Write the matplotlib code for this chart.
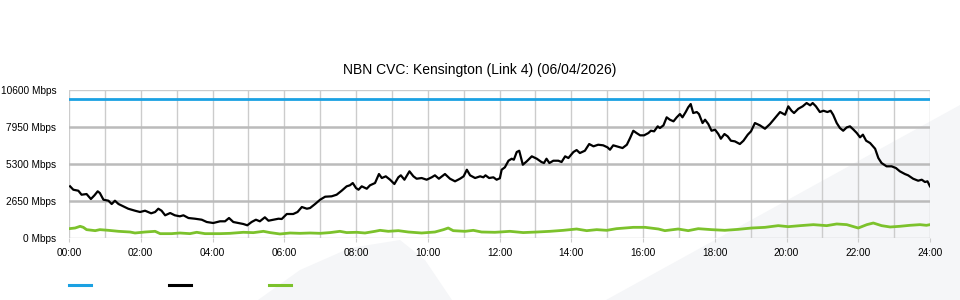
import numpy as np
import matplotlib
matplotlib.use("Agg")
import matplotlib.pyplot as plt
from matplotlib.patches import Polygon
from matplotlib.lines import Line2D

plt.rcParams['font.family'] = ['Liberation Sans', 'DejaVu Sans']

# data (hours of day, Mbps)
cvc_hours = [0.03, 0.12, 0.26, 0.35, 0.49, 0.61, 0.71, 0.80, 0.86, 0.96, 1.10, 1.19, 1.28, 1.38,
             1.51, 1.65, 1.84, 1.98, 2.12, 2.29, 2.40, 2.49, 2.58, 2.68, 2.82, 2.95, 3.09, 3.19,
             3.33, 3.51, 3.70, 3.84, 4.02, 4.21, 4.35, 4.46, 4.58, 4.72, 4.86, 4.97, 5.09, 5.21,
             5.32, 5.46, 5.56, 5.70, 5.84, 5.93, 6.07, 6.25, 6.37, 6.49, 6.63, 6.72, 6.86, 7.00,
             7.14, 7.32, 7.46, 7.60, 7.74, 7.83, 7.91, 8.00, 8.07, 8.16, 8.30, 8.39, 8.53, 8.64,
             8.72, 8.83, 8.95, 9.07, 9.18, 9.25, 9.35, 9.49, 9.60, 9.69, 9.83, 9.97, 10.11, 10.20,
             10.31, 10.48, 10.62, 10.76, 10.90, 11.00, 11.09, 11.18, 11.32, 11.46, 11.55, 11.61,
             11.71, 11.83, 11.92, 12.01, 12.06, 12.15, 12.25, 12.34, 12.40, 12.48, 12.55, 12.65,
             12.76, 12.90, 13.04, 13.17, 13.24, 13.31, 13.39, 13.50, 13.64, 13.73, 13.83, 13.92,
             14.06, 14.15, 14.24, 14.38, 14.50, 14.62, 14.75, 14.89, 15.01, 15.08, 15.17, 15.31,
             15.43, 15.55, 15.64, 15.73, 15.82, 15.92, 16.03, 16.15, 16.22, 16.31, 16.41, 16.47,
             16.57, 16.66, 16.75, 16.85, 16.94, 17.03, 17.10, 17.19, 17.26, 17.33, 17.40, 17.50,
             17.56, 17.66, 17.73, 17.82, 17.91, 18.01, 18.10, 18.17, 18.27, 18.36, 18.45, 18.56,
             18.70, 18.80, 18.92, 19.01, 19.12, 19.26, 19.40, 19.54, 19.68, 19.82, 19.96, 20.05,
             20.14, 20.21, 20.33, 20.45, 20.56, 20.66, 20.73, 20.82, 20.93, 21.03, 21.14, 21.23,
             21.30, 21.40, 21.49, 21.58, 21.68, 21.77, 21.87, 21.96, 22.05, 22.13, 22.22, 22.33,
             22.47, 22.56, 22.65, 22.79, 22.93, 23.05, 23.16, 23.30, 23.39, 23.53, 23.67, 23.77,
             23.86, 23.93, 24.00]
cvc_mbps = [3723, 3480, 3408, 3122, 3170, 2813, 3079, 3365, 3243, 2764, 2692, 2456, 2692, 2456,
            2291, 2119, 1976, 1883, 1976, 1790, 1883, 2119, 1976, 1647, 1811, 1647, 1575, 1647,
            1453, 1403, 1332, 1167, 1095, 1217, 1217, 1453, 1167, 1095, 1024, 931, 1167, 1332,
            1217, 1504, 1260, 1332, 1403, 1382, 1740, 1740, 1883, 2241, 2119, 2169, 2456, 2764,
            2979, 3007, 3122, 3408, 3723, 3795, 3959, 3601, 3480, 3723, 3551, 3795, 3959, 4604,
            4317, 4439, 4196, 3888, 4368, 4511, 4196, 4797, 4439, 4267, 4317, 4196, 4368, 4511,
            4267, 4604, 4267, 4081, 4267, 4439, 4912, 4511, 4317, 4439, 4368, 4511,
            4317, 4368, 4196, 4300, 4912, 5084, 5556, 5699, 5628, 6179, 6272, 5270,
            5513, 5871, 5699, 5463, 5391, 5699, 5391, 5556, 5556, 5463, 5871, 5749,
            6179, 6322, 6107, 6272, 6752, 6587, 6702, 6659, 6515, 6344, 6659, 6558,
            6465, 6702, 7181, 7704, 7539, 7375, 7375, 7539, 7704, 7661, 8019, 7897,
            8088, 8664, 8494, 8377, 8664, 8900, 8664, 9043, 9380, 9616, 8972, 9043,
            8900, 8255, 8494, 8184, 7704, 7776, 7468, 7131, 7468, 7303, 6988, 6945,
            6752, 6988, 7421, 7661, 8255, 8088, 7847, 8184, 8613, 9043, 8850, 9451,
            9136, 8972, 9280, 9451, 9688, 9523, 9688, 9451, 9043, 9136, 9043, 9136,
            8850, 8255, 7897, 7704, 7945, 8019, 7776, 7539, 7232, 7421, 6988, 6824,
            6415, 5749, 5391, 5155, 5155, 5033, 4797, 4604, 4511, 4267, 4124, 4196,
            4031, 4081, 3723]

other_hours = [0.00, 0.17, 0.31, 0.40, 0.49, 0.73, 0.86, 1.10, 1.38, 1.70, 1.84, 2.12, 2.40, 2.54,
               2.86, 3.09, 3.37, 3.56, 3.79, 4.02, 4.21, 4.49, 4.86, 5.14, 5.42, 5.60, 5.88, 6.16,
               6.44, 6.72, 7.00, 7.28, 7.55, 7.74, 8.02, 8.25, 8.53, 8.67, 8.90, 9.18, 9.46, 9.83,
               10.20, 10.44, 10.57, 10.71, 11.04, 11.27, 11.50, 11.87, 12.01, 12.29, 12.66, 13.04,
               13.41, 13.78, 14.15, 14.43, 14.71, 14.99, 15.26, 15.73, 16.06, 16.43, 16.61, 16.98,
               17.26, 17.54, 17.91, 18.28, 18.66, 19.03, 19.40, 19.77, 20.05, 20.38, 20.75, 21.12,
               21.40, 21.68, 22.00, 22.24, 22.42, 22.65, 22.89, 23.16, 23.44, 23.72, 23.90, 24.00]
other_mbps = [689, 737, 859, 785, 620, 547, 620, 571, 500, 451, 380, 451, 500, 333,
              333, 380, 333, 430, 333, 333, 333, 356, 430, 405, 500, 410, 310, 380,
              356, 380, 356, 410, 500, 410, 430, 380, 500, 571, 500, 547, 451, 380,
              451, 620, 737, 547, 500, 571, 451, 430, 451, 500, 410, 451,
              500, 571, 666, 547, 620, 571, 689, 785, 785, 666, 547, 666,
              547, 689, 620, 571, 642, 737, 785, 906, 833, 906, 978, 906,
              1026, 978, 737, 978, 1095, 906, 810, 859, 930, 978, 930, 978]

cap_hours = [0, 24]
cap_mbps = [10000, 10000]

y_ticks = [0, 2650, 5300, 7950, 10600]
y_labels = ['0 Mbps', '2650 Mbps', '5300 Mbps', '7950 Mbps', '10600 Mbps']
x_ticks = list(range(0, 25, 2))
x_labels = ['%02d:00' % h for h in x_ticks]

W, H = 960, 300
fig = plt.figure(figsize=(9.6, 3.0), dpi=100)

# faint background swooshes, drawn behind the axes
bg = '#f5f6f8'
fig.patches.append(Polygon([(606 / W, 0), (960 / W, 195 / H), (960 / W, 0)],
                           closed=True, transform=fig.transFigure, facecolor=bg,
                           edgecolor='none', zorder=-5))
fig.patches.append(Polygon([(258 / W, 0), (300 / W, 30 / H), (350 / W, 52 / H), (400 / W, 60 / H),
                            (425 / W, 40 / H), (452 / W, 0)],
                           closed=True, transform=fig.transFigure, facecolor=bg,
                           edgecolor='none', zorder=-5))

ax = fig.add_axes([69 / W, 61.7 / H, 861 / W, 148 / H])
ax.set_zorder(2)
ax.set_facecolor('none')

ax.set_xlim(0, 24)
ax.set_ylim(0, 10600)

# grid
for h in range(25):
    ax.axvline(h, color='#cccccc', lw=1, zorder=1)
for v in [2650, 5300, 7950]:
    ax.axhline(v, color='#bbbbbb', lw=1.8, zorder=1)
for v in [0, 10600]:
    ax.axhline(v, color='#cccccc', lw=1, zorder=1)

ax.plot(cap_hours, cap_mbps, color='#1ba1e2', lw=2, zorder=3)
ax.plot(other_hours, other_mbps, color='#7cc22c', lw=2, zorder=3)
ax.plot(cvc_hours, cvc_mbps, color='black', lw=1.6, zorder=4)

for s in ax.spines.values():
    s.set_visible(False)

ax.set_yticks(y_ticks)
ax.set_yticklabels(y_labels)
ax.set_xticks(x_ticks)
ax.set_xticklabels(x_labels)
ax.tick_params(axis='y', length=0, pad=9, labelsize=7.3, colors='black')
ax.tick_params(axis='x', length=3, color='#cccccc', pad=4, labelsize=7.3)

fig.text(480 / W, 1 - 70 / H, 'NBN CVC: Kensington (Link 4) (06/04/2026)',
         ha='center', va='center', fontsize=10)

# legend swatches (no labels)
for x0, c in [(69, '#1ba1e2'), (169, 'black'), (269, '#7cc22c')]:
    fig.add_artist(Line2D([x0 / W, (x0 + 22) / W], [15 / H, 15 / H], color=c, lw=2.2,
                          transform=fig.transFigure))

fig.savefig('out.png', dpi=100)
